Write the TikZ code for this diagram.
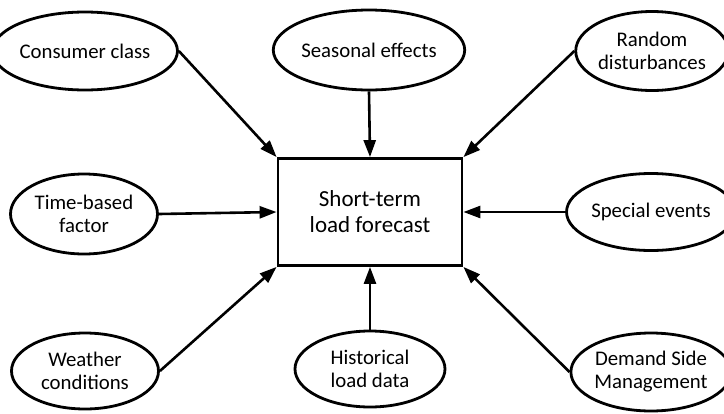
\documentclass[tikz,border=0pt]{standalone}
\usepackage{fontspec}
\setmainfont{Carlito}
\usetikzlibrary{shapes.geometric,arrows.meta}
\begin{document}
\begin{tikzpicture}[x=1pt,y=-1pt,
  ell/.style={draw,ellipse,line width=2.8pt,inner sep=0pt,align=center,
    font=\fontsize{20.8}{23}\selectfont},
  mainbox/.style={draw,rectangle,line width=2.8pt,inner sep=0pt,align=center,
    minimum width=184pt,minimum height=107pt,font=\fontsize{23}{26}\selectfont},
  conn/.style={line width=2.6pt,-{Triangle[length=17pt,width=12pt]}}]
\useasboundingbox (0,0) rectangle (724,413);
\node[mainbox] (box) at (370,212) {Short-term\\load forecast};
\node[ell,minimum width=147pt,minimum height=78pt] (cc) at (85,51) {Consumer class};
\node[ell,minimum width=146pt,minimum height=80pt] (se) at (369,50) {Seasonal effects};
\node[ell,minimum width=140pt,minimum height=79pt] (rd) at (652,51) {Random\\disturbances};
\node[ell,minimum width=147pt,minimum height=80pt] (tb) at (84,214) {Time-based\\factor};
\node[ell,minimum width=141pt,minimum height=77pt] (sp) at (651,212) {Special events};
\node[ell,minimum width=147pt,minimum height=76pt] (wc) at (85,371) {Weather\\conditions};
\node[ell,minimum width=150pt,minimum height=76pt] (hl) at (370,369) {Historical\\load data};
\node[ell,minimum width=140pt,minimum height=78pt] (ds) at (651,372) {Demand Side\\Management};
\draw[conn] (cc.east) -- (box.north west);
\draw[conn] (se.south) -- (box.north);
\draw[conn] (rd.west) -- (box.north east);
\draw[conn] (tb.east) -- (box.west);
\draw[conn] (sp.west) -- (box.east);
\draw[conn] (wc.east) -- (box.south west);
\draw[conn] (hl.north) -- (box.south);
\draw[conn] (ds.west) -- (box.south east);
\end{tikzpicture}
\end{document}
